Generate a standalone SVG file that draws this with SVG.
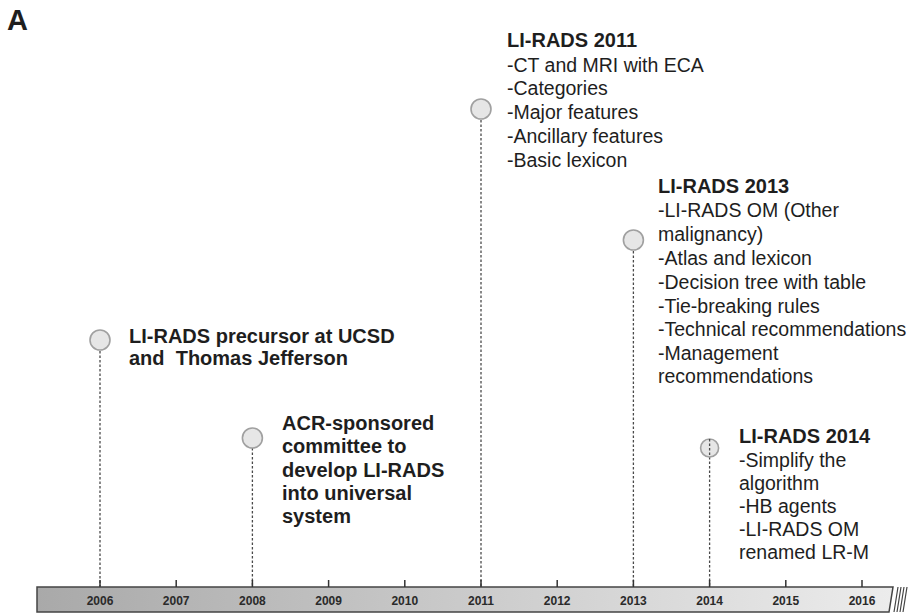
<svg xmlns="http://www.w3.org/2000/svg" width="908" height="613" viewBox="0 0 908 613">
<defs>
<linearGradient id="barGrad" x1="0" y1="0" x2="1" y2="0">
<stop offset="0" stop-color="#a9a9a9"/>
<stop offset="1" stop-color="#ececec"/>
</linearGradient>
<style>
text{font-family:"Liberation Sans",Arial,sans-serif;fill:#1e1e1e}
.b{font-weight:bold;font-size:20px}
.r{font-size:19.5px}
.yr{font-weight:bold;font-size:12px;text-anchor:middle;fill:#2a2a2a}
.dot{fill:#e6e6e6;stroke:#a0a0a0;stroke-width:1.6}
.dash{stroke:#4a4a4a;stroke-width:1.3;stroke-dasharray:2.5 2;fill:none}
.tick{stroke:#333;stroke-width:1.5}
</style>
</defs>
<rect width="908" height="613" fill="#ffffff"/>
<text x="7" y="30" style="font-weight:bold;font-size:29px">A</text>

<g id="connectors">
<line class="dash" x1="100" y1="351" x2="100" y2="586"/>
<line class="dash" x1="252.4" y1="448" x2="252.4" y2="586"/>
<line class="dash" x1="481" y1="120" x2="481" y2="586"/>
<line class="dash" x1="633.4" y1="251" x2="633.4" y2="586"/>
<line class="dash" x1="709.6" y1="439" x2="709.6" y2="586"/>
</g>

<g id="timeline">
<path d="M37,587 H893 L889,612 H37 Z" fill="url(#barGrad)" stroke="#444" stroke-width="1.5"/>
<path d="M894,612 L898,587 M897,612 L901,587 M900,612 L904,587 M903,612 L907,587" stroke="#444" stroke-width="1.2" fill="none"/>
<g class="ticks">
<line class="tick" x1="100" y1="580" x2="100" y2="587"/>
<line class="tick" x1="176.2" y1="580" x2="176.2" y2="587"/>
<line class="tick" x1="252.4" y1="580" x2="252.4" y2="587"/>
<line class="tick" x1="328.6" y1="580" x2="328.6" y2="587"/>
<line class="tick" x1="404.8" y1="580" x2="404.8" y2="587"/>
<line class="tick" x1="481" y1="580" x2="481" y2="587"/>
<line class="tick" x1="557.2" y1="580" x2="557.2" y2="587"/>
<line class="tick" x1="633.4" y1="580" x2="633.4" y2="587"/>
<line class="tick" x1="709.6" y1="580" x2="709.6" y2="587"/>
<line class="tick" x1="785.8" y1="580" x2="785.8" y2="587"/>
<line class="tick" x1="862" y1="580" x2="862" y2="587"/>
</g>
<text class="yr" x="100" y="605">2006</text>
<text class="yr" x="176.2" y="605">2007</text>
<text class="yr" x="252.4" y="605">2008</text>
<text class="yr" x="328.6" y="605">2009</text>
<text class="yr" x="404.8" y="605">2010</text>
<text class="yr" x="481" y="605">2011</text>
<text class="yr" x="557.2" y="605">2012</text>
<text class="yr" x="633.4" y="605">2013</text>
<text class="yr" x="709.6" y="605">2014</text>
<text class="yr" x="785.8" y="605">2015</text>
<text class="yr" x="862" y="605">2016</text>
</g>

<g id="node-2006">
<circle class="dot" cx="100" cy="340" r="10"/>
<text class="b" x="129" y="343">LI-RADS precursor at UCSD</text>
<text class="b" x="129" y="365" xml:space="preserve">and  Thomas Jefferson</text>
</g>

<g id="node-2008">
<circle class="dot" cx="252.4" cy="438" r="10"/>
<text class="b" x="282" y="430">ACR-sponsored</text>
<text class="b" x="282" y="453">committee to</text>
<text class="b" x="282" y="477">develop LI-RADS</text>
<text class="b" x="282" y="500">into universal</text>
<text class="b" x="282" y="523">system</text>
</g>

<g id="node-2011">
<circle class="dot" cx="481" cy="109" r="10"/>
<text class="b" x="507" y="47">LI-RADS 2011</text>
<text class="r" x="507" y="72">-CT and MRI with ECA</text>
<text class="r" x="507" y="95">-Categories</text>
<text class="r" x="507" y="119">-Major features</text>
<text class="r" x="507" y="143">-Ancillary features</text>
<text class="r" x="507" y="167">-Basic lexicon</text>
</g>

<g id="node-2013">
<circle class="dot" cx="633.4" cy="240" r="10"/>
<text class="b" x="658" y="193">LI-RADS 2013</text>
<text class="r" x="658" y="217">-LI-RADS OM (Other</text>
<text class="r" x="658" y="241">malignancy)</text>
<text class="r" x="658" y="265">-Atlas and lexicon</text>
<text class="r" x="658" y="289">-Decision tree with table</text>
<text class="r" x="658" y="313">-Tie-breaking rules</text>
<text class="r" x="658" y="336">-Technical recommendations</text>
<text class="r" x="658" y="360">-Management</text>
<text class="r" x="658" y="383">recommendations</text>
</g>

<g id="node-2014">
<circle class="dot" cx="709.6" cy="448" r="9"/>
<line class="dash" x1="709.6" y1="439" x2="709.6" y2="457"/>
<text class="b" x="739" y="443">LI-RADS 2014</text>
<text class="r" x="739" y="467">-Simplify the</text>
<text class="r" x="739" y="490">algorithm</text>
<text class="r" x="739" y="513">-HB agents</text>
<text class="r" x="739" y="536">-LI-RADS OM</text>
<text class="r" x="739" y="559">renamed LR-M</text>
</g>
</svg>
